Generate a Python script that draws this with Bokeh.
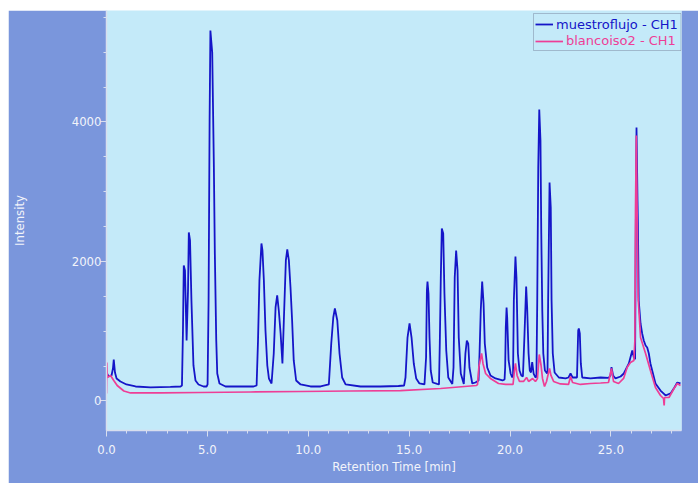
from bokeh.plotting import figure
from bokeh.layouts import column, row
from bokeh.models import (Range1d, SingleIntervalTicker, NumeralTickFormatter, Legend,
                          LegendItem, BoxAnnotation, Spacer)
from bokeh.embed import file_html
from bokeh.resources import INLINE

# ---- data ----
series_names = ["muestroflujo - CH1", "blancoiso2 - CH1"]

blue_time = [0.00, 0.10, 0.25, 0.32, 0.36, 0.42, 0.50, 0.69, 0.99, 1.44, 2.18, 3.17, 3.67,
             3.74, 3.79, 3.83, 3.89, 3.97, 4.04, 4.08, 4.14, 4.21, 4.31, 4.41, 4.56, 4.81,
             4.96, 5.01, 5.06, 5.11, 5.15, 5.24, 5.32, 5.37, 5.44, 5.49, 5.60, 5.90, 6.64,
             7.29, 7.44, 7.51, 7.58, 7.68, 7.73, 7.80, 7.88, 7.97, 8.05, 8.18, 8.29, 8.38,
             8.46, 8.54, 8.63, 8.72, 8.79, 8.89, 8.96, 9.04, 9.12, 9.20, 9.28, 9.40, 9.62,
             10.11, 10.61, 11.02, 11.14, 11.24, 11.32, 11.44, 11.55, 11.68, 11.85, 12.59,
             13.58, 14.47, 14.75, 14.82, 14.92, 15.02, 15.12, 15.23, 15.35, 15.51, 15.76,
             15.84, 15.88, 15.91, 15.96, 16.01, 16.07, 16.17, 16.39, 16.48, 16.52, 16.57,
             16.62, 16.69, 16.75, 16.84, 16.94, 17.14, 17.20, 17.26, 17.33, 17.40, 17.46,
             17.56, 17.71, 17.79, 17.86, 17.93, 17.99, 18.13, 18.29, 18.44, 18.49, 18.55,
             18.62, 18.69, 18.75, 18.87, 19.03, 19.28, 19.63, 19.73, 19.76, 19.79, 19.83,
             19.86, 19.93, 20.03, 20.11, 20.15, 20.19, 20.27, 20.32, 20.39, 20.47, 20.56,
             20.64, 20.72, 20.80, 20.85, 20.92, 20.98, 21.04, 21.10, 21.17, 21.26, 21.31,
             21.35, 21.40, 21.45, 21.51, 21.55, 21.60, 21.65, 21.73, 21.84, 21.86, 21.89,
             21.96, 22.02, 22.06, 22.12, 22.21, 22.42, 22.75, 22.90, 23.00, 23.10, 23.32,
             23.38, 23.41, 23.46, 23.51, 23.58, 23.99, 24.49, 24.88, 24.98, 25.03, 25.11,
             25.23, 25.48, 25.64, 25.89, 26.06, 26.14, 26.20, 26.23, 26.27, 26.32, 26.34,
             26.38, 26.47, 26.55, 26.63, 26.72, 26.80, 26.88, 26.96, 27.21, 27.46, 27.71,
             27.96, 28.15, 28.29, 28.45]
blue_intensity = [409, 351, 366, 466, 595, 409, 323, 280, 237, 208, 194, 201, 208,
                  222, 1011, 1943, 1871, 867, 1584, 2416, 2301, 1441, 509, 294, 237, 208,
                  208, 237, 1441, 4012, 5312, 4996, 3405, 2115, 867, 394, 251, 208, 208,
                  208, 222, 867, 1728, 2258, 2158, 1728, 1011, 509, 323, 251, 681, 1341,
                  1513, 1297, 968, 538, 1154, 2015, 2172, 2015, 1627, 1154, 581, 294, 237,
                  208, 208, 237, 824, 1197, 1326, 1154, 681, 337, 237, 208,
                  208, 215, 222, 337, 910, 1111, 910, 538, 323, 251, 237,
                  624, 1584, 1713, 1541, 910, 437, 265, 244, 237, 824, 1771,
                  2473, 2401, 1541, 724, 337, 244, 480, 1771, 2158, 1871, 910,
                  394, 244, 681, 867, 824, 480, 251, 265, 294, 681, 1297,
                  1713, 1398, 824, 480, 366, 323, 294, 308, 480, 1054, 1341,
                  1197, 581, 394, 337, 366, 1441, 2072, 1771, 681, 437, 366,
                  351, 968, 1642, 1341, 681, 437, 409, 556, 394, 337, 351,
                  1441, 3347, 4179, 3735, 2401, 1297, 681, 437, 394, 437, 1441,
                  3133, 2774, 1441, 681, 409, 337, 323, 337, 394, 337, 337,
                  1011, 1039, 968, 538, 337, 323, 337, 330, 366, 485, 366,
                  323, 351, 394, 538, 724, 624, 600, 2258, 3921, 2875, 2545,
                  1441, 1111, 968, 867, 795, 767, 681, 538, 251, 150, 79,
                  108, 194, 265, 251]

pink_time = [0.00, 0.02, 0.04, 0.20, 0.36, 0.53, 0.86, 1.19, 2.68, 4.66, 7.14, 9.62, 12.10,
             14.57, 16.56, 18.34, 18.39, 18.46, 18.59, 18.66, 18.79, 19.03, 19.43, 19.78,
             20.15, 20.22, 20.27, 20.35, 20.47, 20.67, 20.82, 20.92, 21.12, 21.26, 21.36,
             21.45, 21.54, 21.61, 21.71, 21.81, 21.91, 21.96, 22.03, 22.16, 22.50, 22.90,
             23.00, 23.10, 23.49, 23.99, 24.49, 24.88, 25.03, 25.13, 25.38, 25.63, 25.81,
             25.97, 26.14, 26.19, 26.22, 26.26, 26.30, 26.35, 26.47, 26.72, 26.96, 27.21,
             27.46, 27.61, 27.64, 27.66, 27.88, 28.13, 28.29, 28.45]
pink_intensity = [108, 552, 337, 366, 294, 222, 143, 115, 115, 122, 129, 136, 143,
                  150, 179, 222, 237, 495, 681, 538, 394, 323, 251, 237,
                  237, 437, 538, 366, 280, 280, 337, 280, 323, 280, 323,
                  667, 509, 323, 208, 280, 409, 466, 366, 280, 244, 237,
                  351, 265, 237, 251, 258, 265, 466, 280, 251, 323, 485,
                  552, 581, 867, 2731, 3806, 2731, 1484, 910, 681, 437, 194,
                  79, 36, -65, 50, 50, 179, 251, 222]

x_limits = (0, 28.5)
y_limits = (-423, 5598)

# ---- styling ----
OUTER = "#7A96DC"
INNER = "#C4EAF9"
AXIS = "#D8DEEE"
TEXT = "#F2F4FA"
BLUE = "#1515C8"
PINK = "#EE3E96"
FONT = "DejaVu Sans Condensed"

FRAME_L, FRAME_R, FRAME_T, FRAME_B = 98, 17, 0, 53
W, H = 690, 473
frame_w = W - FRAME_L - FRAME_R
frame_h = H - FRAME_T - FRAME_B

p = figure(width=W, height=H, output_backend="svg", toolbar_location=None,
           x_range=Range1d(*x_limits), y_range=Range1d(*y_limits),
           min_border_left=FRAME_L, min_border_right=FRAME_R,
           min_border_top=FRAME_T, min_border_bottom=FRAME_B,
           background_fill_color=INNER, border_fill_color=OUTER,
           outline_line_color=None)
p.grid.visible = False

r1 = p.line(blue_time, blue_intensity, line_color=BLUE, line_width=1.8)
r2 = p.line(pink_time, pink_intensity, line_color=PINK, line_width=1.7)

p.xaxis.ticker = SingleIntervalTicker(interval=5, num_minor_ticks=5)
p.xaxis.formatter = NumeralTickFormatter(format="0.0")
p.yaxis.ticker = SingleIntervalTicker(interval=2000, num_minor_ticks=4)
p.xaxis.axis_label = "Retention Time [min]"
p.yaxis.axis_label = "Intensity"

for ax in (p.xaxis[0], p.yaxis[0]):
    ax.axis_line_color = AXIS
    ax.axis_line_width = 1.5
    ax.major_tick_line_color = AXIS
    ax.minor_tick_line_color = AXIS
    ax.major_tick_out = 6
    ax.major_tick_in = 0
    ax.minor_tick_out = 3
    ax.minor_tick_in = 0
    ax.major_label_text_color = TEXT
    ax.major_label_text_font = FONT
    ax.major_label_text_font_size = "13px"
    ax.axis_label_text_color = TEXT
    ax.axis_label_text_font = FONT
    ax.axis_label_text_font_style = "normal"
    ax.axis_label_text_font_size = "13px"
p.xaxis.major_label_standoff = 8
p.xaxis.axis_label_standoff = 2
p.yaxis.major_label_standoff = -1
p.yaxis.axis_label_standoff = 42

# ---- legend (two single-item legends so each label keeps its own colour) ----
def legend_for(name, rend, color, glyph_w, bottom_px):
    return Legend(items=[LegendItem(label=name, renderers=[rend])],
                  location=(429, frame_h - bottom_px), orientation="vertical",
                  padding=0, spacing=0, margin=0, glyph_width=glyph_w, glyph_height=16,
                  label_height=16, label_standoff=3, label_text_color=color,
                  label_text_font="DejaVu Sans", label_text_font_size="13px",
                  border_line_color=None, background_fill_alpha=0)

p.add_layout(legend_for(series_names[0], r1, BLUE, 18, 22))
p.add_layout(legend_for(series_names[1], r2, PINK, 28, 38.5))

x_per_px = (x_limits[1] - x_limits[0]) / frame_w
y_per_px = (y_limits[1] - y_limits[0]) / frame_h
p.add_layout(BoxAnnotation(left=x_limits[0] + 427 * x_per_px, right=x_limits[1] - 0.5 * x_per_px,
                           top=y_limits[1] - 3 * y_per_px, bottom=y_limits[1] - 40 * y_per_px,
                           fill_alpha=0, line_color="#4A4A66", line_width=1))

page = column(Spacer(height=10), row(Spacer(width=8), p))
open("out.html", "w").write(file_html(page, INLINE))
